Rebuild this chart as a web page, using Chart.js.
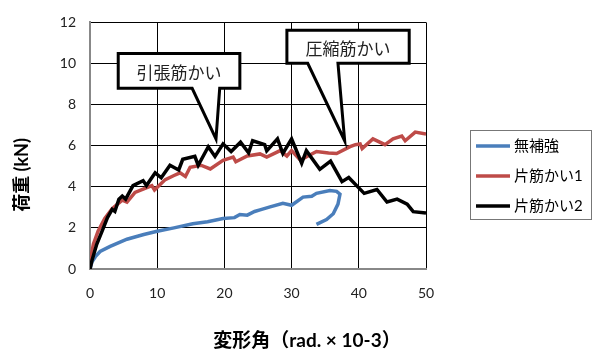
<!DOCTYPE html>
<html lang="ja">
<head>
    <meta charset="UTF-8">
    <title>荷重-変形角</title>
    <style>
        html, body { margin: 0; padding: 0; background: #fff; }
    </style>
</head>
<body>
    <canvas id="myChart" width="594" height="352"></canvas>

    <script src="https://cdn.jsdelivr.net/npm/chart.js"></script>

<script>
    // 凡例
    const seriesNames = ['無補強', '片筋かい1', '片筋かい2'];

    // 無補強
    const plainX = [0, 0.3, 0.8, 1.5, 3, 5.5, 8, 10, 12.5, 15.3, 17.5, 19.8, 21.5, 22.3, 23.4, 24.5, 25.3, 26.8, 28.7, 30, 31.7, 33, 33.7, 35.7, 36.7, 37.2, 36.9, 36.2, 35.2, 33.7];
    const plainY = [0, 0.35, 0.6, 0.85, 1.1, 1.45, 1.68, 1.84, 2.0, 2.2, 2.3, 2.46, 2.5, 2.65, 2.62, 2.8, 2.88, 3.02, 3.2, 3.1, 3.5, 3.54, 3.68, 3.82, 3.78, 3.64, 3.16, 2.69, 2.41, 2.17];

    // 片筋かい1
    const brace1X = [0, 0.2, 0.5, 1.2, 2.2, 3.3, 4.8, 5.5, 6.7, 8, 9.2, 9.6, 11.2, 12.5, 13.4, 14.2, 14.9, 16.5, 17.9, 19.8, 21.3, 21.7, 23.4, 25.3, 26.3, 28.3, 29.3, 30, 31.3, 33.7, 35.5, 36.7, 38.7, 39.5, 40.2, 40.5, 42.1, 43.9, 45.1, 46.4, 46.9, 48.4, 50];
    const brace1Y = [0, 0.7, 1.2, 1.84, 2.46, 2.93, 3.35, 3.25, 3.73, 3.9, 4.06, 3.85, 4.35, 4.55, 4.68, 4.5, 4.95, 5.05, 4.87, 5.29, 5.45, 5.22, 5.5, 5.6, 5.45, 5.76, 5.5, 5.76, 5.3, 5.72, 5.65, 5.62, 5.95, 6.05, 6.09, 5.86, 6.33, 6.05, 6.33, 6.47, 6.24, 6.66, 6.57];

    // 片筋かい2
    const brace2X = [0, 0.3, 1, 1.8, 2.6, 3.3, 3.7, 4.3, 4.8, 5.3, 6.4, 7.9, 8.4, 9.7, 10.6, 11.9, 13.2, 13.8, 15.6, 16.1, 17.6, 18.6, 19.8, 21.0, 22.4, 23.6, 24.2, 26.0, 26.3, 27.9, 28.7, 30.0, 31.5, 32.2, 34.2, 35.8, 37.5, 38.5, 40.8, 42.7, 44.2, 45.7, 47.2, 48.1, 50];
    const brace2Y = [0, 0.42, 1.2, 1.84, 2.5, 2.9, 2.8, 3.4, 3.55, 3.4, 4.06, 4.3, 4.06, 4.68, 4.44, 5.05, 4.82, 5.34, 5.48, 5.05, 5.95, 5.48, 6.09, 5.72, 6.17, 5.65, 6.24, 6.05, 5.75, 6.33, 5.62, 6.33, 5.15, 5.76, 4.85, 5.25, 4.25, 4.45, 3.68, 3.87, 3.26, 3.4, 3.16, 2.79, 2.72];

    // 目盛
    const xTickValues = [0, 10, 20, 30, 40, 50];
    const yTickValues = [0, 2, 4, 6, 8, 10, 12];

    const xTitle = '変形角（rad. × 10-3）';
    const yTitle = '荷重 (kN)';

    // 吹き出し（データ座標）
    const callouts = [
        { text: '引張筋かい', box: [4.2, 10.49, 22.3, 8.79], base: [15.2, 19.3], tip: [18.75, 6.33] },
        { text: '圧縮筋かい', box: [29.3, 11.62, 47.5, 10.01], base: [32.4, 36.9], tip: [37.9, 6.24] }
    ];

    const pairs = (xs, ys) => xs.map((x, i) => ({ x: x, y: ys[i] }));

    const colors = ['#4A7EBB', '#BE4B48', '#000000'];
    const jpFont = 'Lato, "Noto Sans CJK JP", sans-serif';

    const extras = {
        id: 'extras',
        afterDatasetsDraw(chart) {
            const ctx = chart.ctx;
            const xs = chart.scales.x, ys = chart.scales.y;
            ctx.save();
            callouts.forEach(c => {
                const x0 = xs.getPixelForValue(c.box[0]), y0 = ys.getPixelForValue(c.box[1]);
                const x1 = xs.getPixelForValue(c.box[2]), y1 = ys.getPixelForValue(c.box[3]);
                const b0 = xs.getPixelForValue(c.base[0]), b1 = xs.getPixelForValue(c.base[1]);
                const tx = xs.getPixelForValue(c.tip[0]), ty = ys.getPixelForValue(c.tip[1]);
                ctx.beginPath();
                ctx.moveTo(x0, y0);
                ctx.lineTo(x1, y0);
                ctx.lineTo(x1, y1);
                ctx.lineTo(b1, y1);
                ctx.lineTo(tx, ty);
                ctx.lineTo(b0, y1);
                ctx.lineTo(x0, y1);
                ctx.closePath();
                ctx.fillStyle = '#fff';
                ctx.fill();
                ctx.lineWidth = 3;
                ctx.lineJoin = 'miter';
                ctx.strokeStyle = '#000';
                ctx.stroke();
                ctx.fillStyle = '#222';
                ctx.font = '17px "Noto Sans CJK JP", sans-serif';
                ctx.textAlign = 'center';
                ctx.textBaseline = 'middle';
                ctx.fillText(c.text, (x0 + x1) / 2, (y0 + y1) / 2 + 2);
            });
            ctx.restore();
        },
        afterDraw(chart) {
            const ctx = chart.ctx;
            ctx.save();
            // legend
            const lx = 470, ly = 130, lw = 121, lh = 89;
            ctx.strokeStyle = '#777';
            ctx.lineWidth = 1;
            ctx.strokeRect(lx + 0.5, ly + 0.5, lw, lh);
            ctx.font = '15px ' + jpFont;
            ctx.textAlign = 'left';
            ctx.textBaseline = 'middle';
            chart.data.datasets.forEach((ds, i) => {
                const y = ly + 16 + i * 30;
                ctx.beginPath();
                ctx.moveTo(lx + 6, y);
                ctx.lineTo(lx + 40, y);
                ctx.strokeStyle = ds.borderColor;
                ctx.lineWidth = 3.5;
                ctx.stroke();
                ctx.fillStyle = '#000';
                ctx.fillText(ds.label, lx + 44, y);
            });
            // axis titles
            ctx.font = 'bold 19px ' + jpFont;
            ctx.fillStyle = '#000';
            ctx.textAlign = 'center';
            ctx.fillText(xTitle, 307, 341);
            ctx.font = 'bold 18px ' + jpFont;
            ctx.translate(22, 175);
            ctx.rotate(-Math.PI / 2);
            ctx.fillText(yTitle, 0, 0);
            ctx.restore();
        }
    };

    const ctx = document.getElementById('myChart');

    new Chart(ctx, {
        type: 'scatter',
        data: {
            datasets: [
                { label: seriesNames[0], data: pairs(plainX, plainY), borderColor: colors[0], order: 2 },
                { label: seriesNames[1], data: pairs(brace1X, brace1Y), borderColor: colors[1], order: 1 },
                { label: seriesNames[2], data: pairs(brace2X, brace2Y), borderColor: colors[2], order: 0 }
            ].map(d => Object.assign(d, {
                showLine: true,
                borderWidth: 3.5,
                pointRadius: 0,
                tension: 0,
                backgroundColor: d.borderColor
            }))
        },
        options: {
            responsive: false,
            animation: false,
            devicePixelRatio: 1,
            layout: { padding: { left: 0, right: 168, top: 15, bottom: 0 } },
            plugins: {
                legend: { display: false },
                tooltip: { enabled: false }
            },
            scales: {
                x: {
                    type: 'linear',
                    min: xTickValues[0],
                    max: xTickValues[xTickValues.length - 1],
                    afterBuildTicks: s => { s.ticks = xTickValues.map(v => ({ value: v })); },
                    afterFit: s => { s.height = 83; },
                    grid: { color: '#000', lineWidth: 1, drawTicks: false },
                    border: { color: '#888', width: 2 },
                    ticks: { padding: 16, color: '#222', font: { family: jpFont, size: 14 } }
                },
                y: {
                    type: 'linear',
                    min: yTickValues[0],
                    max: yTickValues[yTickValues.length - 1],
                    afterBuildTicks: s => { s.ticks = yTickValues.map(v => ({ value: v })); },
                    afterFit: s => { s.width = 90; },
                    grid: { color: '#000', lineWidth: 1, drawTicks: false },
                    border: { color: '#888', width: 2 },
                    ticks: { padding: 14, color: '#222', font: { family: jpFont, size: 14 } }
                }
            }
        },
        plugins: [extras]
    });
</script>

</body>
</html>
